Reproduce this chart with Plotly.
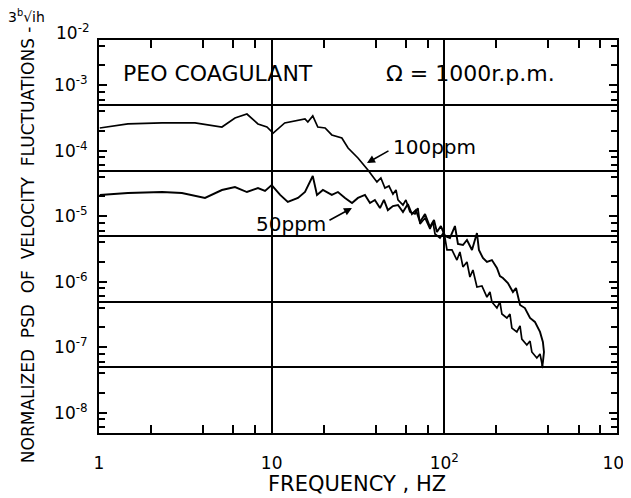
import plotly.graph_objects as go

# ---- data (frequency in Hz, normalized PSD) ----
freq_100ppm = [1.01, 1.47, 2.32, 3.60, 5.15, 6.13, 7.19, 8.33, 9.39, 10.2,
               11.9, 14.2, 15.6, 16.2, 17.3, 18.5, 20.4, 22.3, 25.5, 27.7,
               31.6, 36.1, 40.7, 42.9, 45.3, 47.8, 50.4, 52.5, 53.9, 57.6,
               59.9, 63.2, 67.6, 70.3, 72.3, 77.3, 82.6, 85.9, 88.3, 94.4,
               99.5, 103.6, 110.7, 118.3, 123.1, 128.2, 135.2, 140.7, 146.4, 154.5,
               165.1, 176.5, 183.7, 188.6, 201.6, 209.9, 215.5, 230.3, 239.9, 246.1,
               263.0, 274.4, 281.1, 300.5, 313.5, 321.2, 343.3, 358.2, 372.2]
psd_100ppm = [2.22e-4, 2.56e-4, 2.65e-4, 2.65e-4, 2.30e-4, 3.15e-4, 3.63e-4, 2.56e-4, 2.30e-4, 1.86e-4,
              2.65e-4, 2.94e-4, 3.05e-4, 2.74e-4, 3.39e-4, 2.30e-4, 2.22e-4, 1.74e-4, 1.56e-4, 1.10e-4,
              7.73e-5, 5.07e-5, 3.33e-5, 3.83e-5, 2.69e-5, 2.89e-5, 2.18e-5, 2.51e-5, 1.77e-5, 1.48e-5,
              1.77e-5, 1.16e-5, 1.08e-5, 1.33e-5, 7.6e-6, 9.38e-6, 6.38e-6, 8.15e-6, 5.35e-6, 4.65e-6,
              5.74e-6, 3.05e-6, 3.05e-6, 2.14e-6, 2.84e-6, 1.68e-6, 2.0e-6, 1.18e-6, 1.51e-6, 8.3e-7,
              8.6e-7, 5.83e-7, 6.97e-7, 4.90e-7, 3.96e-7, 4.90e-7, 3.21e-7, 2.79e-7, 3.21e-7, 1.96e-7,
              1.71e-7, 2.11e-7, 1.33e-7, 1.08e-7, 1.24e-7, 8.45e-8, 6.84e-8, 7.87e-8, 4.81e-8]

freq_50ppm = [1.01, 1.47, 2.32, 3.02, 4.11, 5.15, 6.13, 7.19, 8.33, 9.15,
              10.0, 11.2, 12.4, 14.2, 15.6, 17.3, 18.3, 19.8, 22.3, 24.2,
              26.6, 29.2, 31.6, 34.7, 37.1, 39.6, 42.4, 44.7, 47.1, 50.4,
              53.9, 57.6, 61.5, 64.9, 68.5, 72.3, 77.3, 82.6, 87.1, 90.6,
              95.5, 100.8, 107.8, 115.2, 119.9, 128.2, 135.2, 144.6, 154.5, 158.6,
              167.3, 176.5, 188.6, 201.6, 209.9, 218.4, 233.4, 249.6, 260.1, 274.4,
              292.8, 313.5, 334.7, 358.2, 372.2, 377.6, 372.2, 367.6]
psd_50ppm = [2.11e-5, 2.26e-5, 2.34e-5, 2.26e-5, 1.90e-5, 2.51e-5, 2.79e-5, 2.34e-5, 2.69e-5, 2.43e-5,
             2.99e-5, 2.11e-5, 1.65e-5, 1.90e-5, 2.34e-5, 4.11e-5, 2.11e-5, 2.51e-5, 2.11e-5, 2.34e-5,
             1.90e-5, 1.59e-5, 1.90e-5, 2.11e-5, 1.59e-5, 1.77e-5, 1.33e-5, 1.77e-5, 1.24e-5, 1.43e-5,
             1.48e-5, 1.16e-5, 1.53e-5, 1.08e-5, 1.24e-5, 8.15e-6, 1.08e-5, 6.84e-6, 8.75e-6, 5.74e-6,
             7.08e-6, 4.99e-6, 4.65e-6, 7.08e-6, 3.76e-6, 3.63e-6, 4.33e-6, 3.05e-6, 5.53e-6, 3.05e-6,
             2.30e-6, 2.0e-6, 2.14e-6, 1.62e-6, 1.22e-6, 1.14e-6, 9.55e-7, 6.97e-7, 8.0e-7, 4.41e-7,
             3.96e-7, 2.79e-7, 2.43e-7, 1.71e-7, 1.20e-7, 8.45e-8, 5.94e-8, 4.81e-8]

# ---- axes ----
x_tickvals = [1, 10, 100, 1000]
x_ticktext = ["1", "10", "10<sup>2</sup>", "10<sup>3</sup>"]
x_minor = [2, 4, 6, 8, 20, 40, 60, 80, 200, 400, 600, 800]
y_tickvals = [1e-8, 1e-7, 1e-6, 1e-5, 1e-4, 1e-3]
y_ticktext = ["10<sup>-8</sup>", "10<sup>-7</sup>", "10<sup>-6</sup>",
              "10<sup>-5</sup>", "10<sup>-4</sup>", "10<sup>-3</sup>"]
y_minor = [m * 10.0 ** e for e in range(-9, -2) for m in (2, 4, 6, 8)]
y_gridvals = [4.9e-8, 4.9e-7, 4.9e-6, 4.9e-5, 4.9e-4]
x_range_log = [0, 3]
y_range_log = [-8.31, -2.31]

FONT = "DejaVu Sans"

fig = go.Figure()
fig.add_trace(go.Scatter(x=freq_100ppm, y=psd_100ppm, mode="lines",
                         line=dict(color="black", width=1.7), showlegend=False))
fig.add_trace(go.Scatter(x=freq_50ppm, y=psd_50ppm, mode="lines", yaxis="y2",
                         line=dict(color="black", width=1.9), showlegend=False))

# the page body has an 8px default margin, so the figure is 8px smaller
fig.update_layout(
    width=623, height=490,
    margin=dict(l=91, r=14, t=32, b=65, autoexpand=False),
    paper_bgcolor="white", plot_bgcolor="white",
    font=dict(family=FONT, color="black", size=17),
    xaxis=dict(type="log", range=x_range_log, tickmode="array",
               tickvals=x_tickvals, ticktext=x_ticktext,
               ticks="inside", ticklen=8, tickwidth=1.5, tickcolor="black",
               showline=True, linewidth=2, linecolor="black", mirror="allticks",
               showgrid=True, gridcolor="black", gridwidth=1.5, zeroline=False,
               ticklabelstandoff=14, ticklabeloverflow="allow", automargin=False,
               minor=dict(tickvals=x_minor, ticks="inside", ticklen=7,
                          tickwidth=1.5, tickcolor="black", showgrid=False)),
    yaxis=dict(type="log", range=y_range_log, tickmode="array",
               tickvals=y_tickvals, ticktext=y_ticktext,
               ticks="inside", ticklen=8, tickwidth=1.5, tickcolor="black",
               showline=True, linewidth=2, linecolor="black", mirror="allticks",
               showgrid=False, zeroline=False, ticklabelstandoff=6, automargin=False,
               minor=dict(tickvals=y_minor, ticks="inside", ticklen=6,
                          tickwidth=1.5, tickcolor="black", showgrid=False)),
    yaxis2=dict(type="log", range=y_range_log, overlaying="y", side="left",
                tickmode="array", tickvals=y_gridvals, showticklabels=False,
                ticks="", showline=False, zeroline=False, automargin=False,
                showgrid=True, gridcolor="black", gridwidth=1.5),
)

C = dict(xanchor="center", yanchor="middle", showarrow=False)
annotations = [
    dict(text="PEO COAGULANT", xref="paper", yref="paper", x=0.2297, y=0.916,
         font=dict(size=22), **C),
    dict(text="Ω = 1000r.p.m.", xref="paper", yref="paper", x=0.718, y=0.916,
         font=dict(size=22), **C),
    dict(text="100ppm", xref="paper", yref="paper", x=0.647, y=0.728,
         font=dict(size=20), **C),
    dict(text="50ppm", xref="paper", yref="paper", x=0.371, y=0.532,
         font=dict(size=20), **C),
    dict(text="", x=1.552, y=-4.188, xref="x", yref="y", showarrow=True,
         ax=23, ay=-13, arrowhead=2, arrowsize=1, arrowwidth=1.6, arrowcolor="black"),
    dict(text="", x=1.465, y=-4.875, xref="x", yref="y", showarrow=True,
         ax=-24, ay=13, arrowhead=2, arrowsize=1, arrowwidth=1.6, arrowcolor="black"),
    dict(text="10<sup>-2</sup>", xref="paper", yref="paper", x=-0.0135, y=1.02,
         xanchor="right", yanchor="middle", showarrow=False, font=dict(size=17)),
    dict(text="3<sup>b</sup>√ih", xref="paper", yref="paper", x=-0.139, y=1.06,
         font=dict(size=14), **C),
    dict(text="NORMALIZED  PSD  OF  VELOCITY  FLUCTUATIONS -", xref="paper", yref="paper",
         x=-0.137, y=0.478, textangle=-90, font=dict(size=17), **C),
    dict(text="FREQUENCY , HZ", xref="paper", yref="paper", x=0.498, y=-0.130,
         font=dict(size=21), **C),
]
fig.update_layout(annotations=annotations)

fig.write_html("out.html")
